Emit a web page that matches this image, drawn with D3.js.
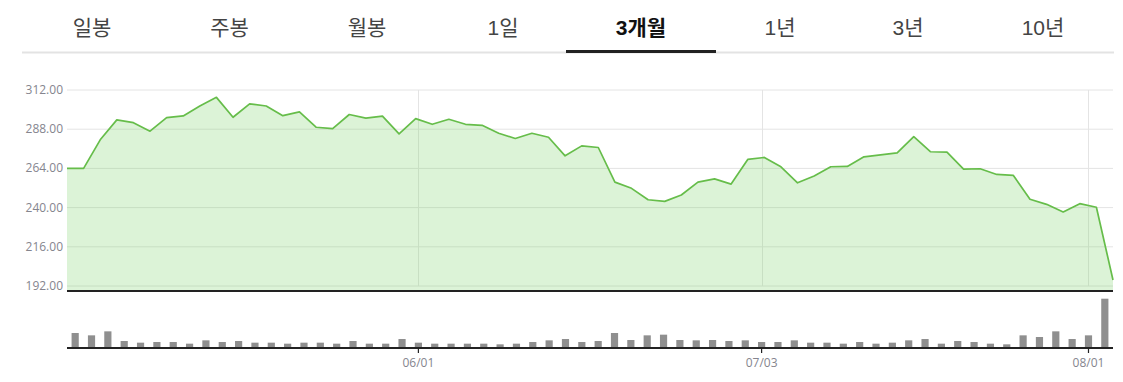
<!DOCTYPE html>
<html><head><meta charset="utf-8">
<script src="https://cdn.jsdelivr.net/npm/d3@7"></script>
<style>
html,body{margin:0;padding:0;background:#fff;}
svg{display:block;}
</style></head>
<body>
<svg id="chart" width="1123" height="382"></svg>
<script>
const tabs = ["일봉","주봉","월봉","1일","3개월","1년","3년","10년"];
const selectedTab = "3개월";
const dates = ["05/02","05/03","05/04","05/05","05/08","05/09","05/10","05/11","05/12","05/15","05/16","05/17","05/18","05/19","05/22","05/23","05/24","05/25","05/26","05/30","05/31",
"06/01","06/02","06/05","06/06","06/07","06/08","06/09","06/12","06/13","06/14","06/15","06/16","06/20","06/21","06/22","06/23","06/26","06/27","06/28","06/29","06/30",
"07/03","07/05","07/06","07/07","07/10","07/11","07/12","07/13","07/14","07/17","07/18","07/19","07/20","07/21","07/24","07/25","07/26","07/27","07/28","07/31",
"08/01","08/02"];
const prices = [264.0,264.0,281.5,293.7,292.0,286.8,295.1,296.1,302.2,307.5,
295.3,303.5,302.2,296.3,298.6,289.2,288.4,297.0,294.8,296.0,
285.1,294.5,291.0,294.1,291.0,290.4,285.5,282.3,285.5,283.1,
271.7,277.8,276.8,255.6,251.8,244.8,243.8,247.7,255.6,257.6,
254.4,269.5,270.7,265.0,255.2,259.3,265.0,265.2,271.1,272.3,
273.5,283.5,274.2,274.0,263.6,263.8,260.3,259.7,245.1,242.0,
237.3,242.4,240.2,195.7];
const volumes = [9.0,7.6,10.0,4.2,3.2,3.6,3.6,2.6,4.6,3.6,
4.2,3.2,3.2,2.6,3.2,3.2,2.6,4.2,2.6,2.6,
5.4,3.2,2.6,2.6,2.6,2.6,2.2,2.6,3.6,4.6,
5.4,3.6,4.2,9.0,4.8,7.6,8.0,4.8,4.6,4.8,
4.2,4.6,3.6,3.6,4.6,3.2,3.2,2.6,3.6,2.6,
3.2,4.6,5.4,2.6,4.2,3.6,2.6,2.2,7.6,6.6,
10.0,5.4,7.6,29.6];
const yTicks = [192,216,240,264,288,312];
const xTickLabels = ["06/01","07/03","08/01"];

const svg = d3.select("#chart");
const L = 67, R = 1113;

// ---- tabs ----
const tabCenters = [92,229.5,367,503,641,780,908,1043];
svg.append("line").attr("x1",22).attr("x2",1114).attr("y1",52.5).attr("y2",52.5)
  .attr("stroke","#e3e3e3").attr("stroke-width",2);
const tg = svg.append("g");
tabs.forEach((t,i)=>{
  const sel = t===selectedTab;
  tg.append("text").attr("x",tabCenters[i]).attr("y",27).attr("text-anchor","middle")
    .attr("dominant-baseline","central")
    .attr("font-family","'Liberation Sans','Noto Sans CJK KR',sans-serif")
    .attr("font-size",21).attr("font-weight",sel?"bold":"normal")
    .attr("fill",sel?"#111":"#444").text(t);
  if(sel){
    svg.append("line").attr("x1",566).attr("x2",716).attr("y1",51.5).attr("y2",51.5)
      .attr("stroke","#222").attr("stroke-width",3);
  }
});

// ---- scales ----
const xp = d3.scalePoint().domain(dates).range([L,R]);
const xb = d3.scaleBand().domain(dates).range([L,R]).paddingInner(0.56).paddingOuter(0.28);
const xc = d => xb(d) + xb.bandwidth()/2;
const y = d3.scaleLinear().domain([192,312]).range([286,90]);
const yv = d3.scaleLinear().domain([0, d3.max(volumes)]).range([348,298.7]);

// grid
const grid = svg.append("g");
yTicks.forEach(t=>{
  grid.append("line").attr("x1",L).attr("x2",R).attr("y1",y(t)).attr("y2",y(t))
    .attr("stroke","#e4e4e4").attr("stroke-width",1);
});
xTickLabels.forEach(d=>{
  grid.append("line").attr("x1",Math.round(xc(d))+0.5).attr("x2",Math.round(xc(d))+0.5)
    .attr("y1",y(312)).attr("y2",y(192)).attr("stroke","#e4e4e4").attr("stroke-width",1);
});

// y labels
const yl = svg.append("g");
yTicks.forEach(t=>{
  yl.append("text").attr("x",63).attr("y",y(t)-0.5).attr("text-anchor","end")
    .attr("dominant-baseline","central")
    .attr("font-family","'Open Sans',sans-serif").attr("font-size",12)
    .attr("fill","#85858e").text(d3.format(".2f")(t));
});

// area + line
const data = dates.map((d,i)=>({d, p:prices[i], v:volumes[i]}));
const area = d3.area().x(o=>xp(o.d)).y0(291).y1(o=>y(o.p));
svg.append("path").datum(data).attr("d",area).attr("fill","rgba(120,210,100,0.26)");
const line = d3.line().x(o=>xp(o.d)).y(o=>y(o.p));
svg.append("path").datum(data).attr("d",line).attr("fill","none")
  .attr("stroke","#66bd4a").attr("stroke-width",1.7).attr("stroke-linejoin","round");

svg.append("line").attr("x1",L).attr("x2",R).attr("y1",291).attr("y2",291)
  .attr("stroke","#222").attr("stroke-width",2);

// volume bars
svg.append("g").selectAll("rect").data(data).join("rect")
  .attr("x",o=>xb(o.d)).attr("width",xb.bandwidth())
  .attr("y",o=>yv(o.v)).attr("height",o=>348-yv(o.v))
  .attr("fill","#8f8f8f");

// volume axis
const ax = d3.axisBottom(xb).tickValues(xTickLabels).tickSize(5).tickSizeOuter(0).tickPadding(5);
const axg = svg.append("g").attr("transform","translate(0,348)").call(ax);
axg.select(".domain").remove();
axg.selectAll(".tick line").attr("stroke","#222").attr("stroke-width",1.2);
axg.selectAll(".tick text").attr("font-family","'Open Sans',sans-serif").attr("font-size",12)
  .attr("fill","#85858e");
svg.append("line").attr("x1",L).attr("x2",R).attr("y1",348).attr("y2",348)
  .attr("stroke","#222").attr("stroke-width",2);
</script>
</body></html>
